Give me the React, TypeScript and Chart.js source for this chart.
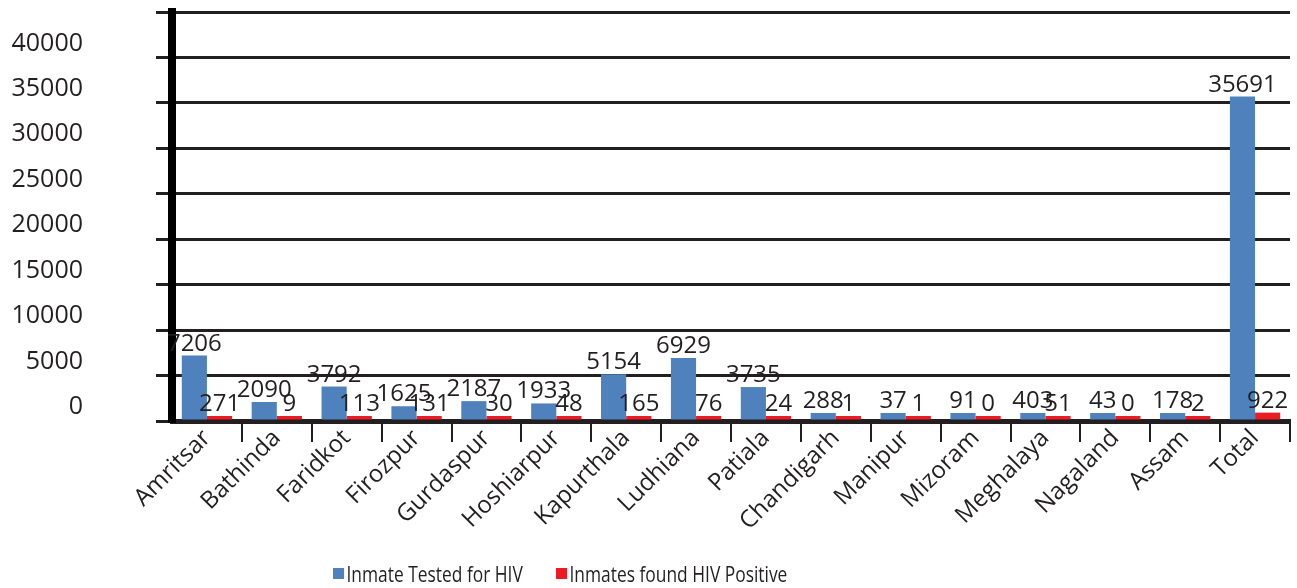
import React, { useEffect, useRef } from "react";
import { Chart, registerables } from "chart.js";

Chart.register(...registerables);

const categories = [
  "Amritsar", "Bathinda", "Faridkot", "Firozpur", "Gurdaspur", "Hoshiarpur",
  "Kapurthala", "Ludhiana", "Patiala", "Chandigarh", "Manipur", "Mizoram",
  "Meghalaya", "Nagaland", "Assam", "Total",
];
const testedValues = [7206, 2090, 3792, 1625, 2187, 1933, 5154, 6929, 3735, 288, 37, 91, 403, 43, 178, 35691];
const positiveValues = [271, 9, 113, 131, 30, 48, 165, 76, 24, 1, 1, 0, 51, 0, 2, 922];
const seriesNames = ["Inmate Tested for HIV", "Inmates found HIV Positive"];
const seriesColors = ["#4f81bd", "#ed1c24"];
const yMax = 45000;
const yStep = 5000;

const FONT = '"Open Sans", "Noto Sans", sans-serif';
const INK = "#231f20";

const valueLabels = {
  id: "valueLabels",
  afterDatasetsDraw(chart: any) {
    const ctx = chart.ctx;
    ctx.save();
    ctx.font = `24px ${FONT}`;
    ctx.fillStyle = INK;
    ctx.textAlign = "center";
    ctx.textBaseline = "alphabetic";
    chart.data.datasets.forEach((ds: any, i: number) => {
      const meta = chart.getDatasetMeta(i);
      meta.data.forEach((el: any, j: number) => {
        ctx.fillText(String(ds.data[j]), el.x, el.y - 5);
      });
    });
    ctx.restore();
  },
};

export default function App() {
  const ref = useRef<HTMLCanvasElement | null>(null);

  useEffect(() => {
    if (!ref.current) return;
    const n = categories.length;
    const chart = new Chart(ref.current, {
      type: "bar",
      data: {
        labels: categories,
        datasets: [
          {
            label: seriesNames[0],
            data: testedValues,
            backgroundColor: seriesColors[0],
            categoryPercentage: 0.72,
            barPercentage: 1,
            minBarLength: 8,
          },
          {
            label: seriesNames[1],
            data: positiveValues,
            backgroundColor: seriesColors[1],
            categoryPercentage: 0.72,
            barPercentage: 1,
            minBarLength: 5,
          },
        ],
      },
      options: {
        responsive: false,
        animation: false,
        devicePixelRatio: 1,
        layout: { padding: { top: 12, right: 7, left: 0, bottom: 0 } },
        plugins: {
          legend: { display: false },
          tooltip: { enabled: false },
        },
        scales: {
          x: {
            afterFit: (scale: any) => {
              scale.height = 167;
            },
            grid: {
              display: true,
              drawOnChartArea: false,
              drawTicks: true,
              tickLength: 21,
              color: (c: any) => (c.index === 0 || c.index >= n ? "rgba(0,0,0,0)" : INK),
              lineWidth: 2,
              offset: true,
            },
            border: { display: true, color: INK, width: 5 },
            ticks: {
              autoSkip: false,
              maxRotation: 45,
              minRotation: 45,
              padding: -18,
              color: INK,
              font: { family: FONT, size: 24 },
            },
          },
          y: {
            min: 0,
            max: yMax,
            afterFit: (scale: any) => {
              scale.width = 172;
              scale.paddingTop = 0;
              scale.paddingBottom = 0;
            },
            grid: {
              color: INK,
              lineWidth: 3,
              tickLength: 16,
              drawTicks: true,
            },
            border: { display: true, color: "#000", width: 8 },
            ticks: {
              stepSize: yStep,
              padding: 73,
              labelOffset: -14,
              color: INK,
              font: { family: FONT, size: 25 },
              callback: (v: any) => (Number(v) >= yMax ? "" : String(v)),
            },
          },
        },
      },
      plugins: [valueLabels],
    });
    return () => chart.destroy();
  }, []);

  const legendItem = (i: number, left: number) => (
    <div
      key={i}
      style={{
        position: "absolute",
        left,
        top: 561,
        height: 24,
        display: "flex",
        alignItems: "center",
        font: `22px ${FONT}`,
        color: INK,
        whiteSpace: "nowrap",
        transform: "scaleX(0.79)",
        transformOrigin: "left center",
      }}
    >
      <span
        style={{
          display: "inline-block",
          width: 14,
          height: 11,
          background: seriesColors[i],
          marginRight: 3,
        }}
      />
      <span>{seriesNames[i]}</span>
    </div>
  );

  return (
    <div
      style={{
        position: "fixed",
        left: 0,
        top: 0,
        width: 1297,
        height: 588,
        background: "#fff",
      }}
    >
      <canvas ref={ref} width={1297} height={588} style={{ display: "block" }} />
      {legendItem(0, 333)}
      {legendItem(1, 556)}
    </div>
  );
}
